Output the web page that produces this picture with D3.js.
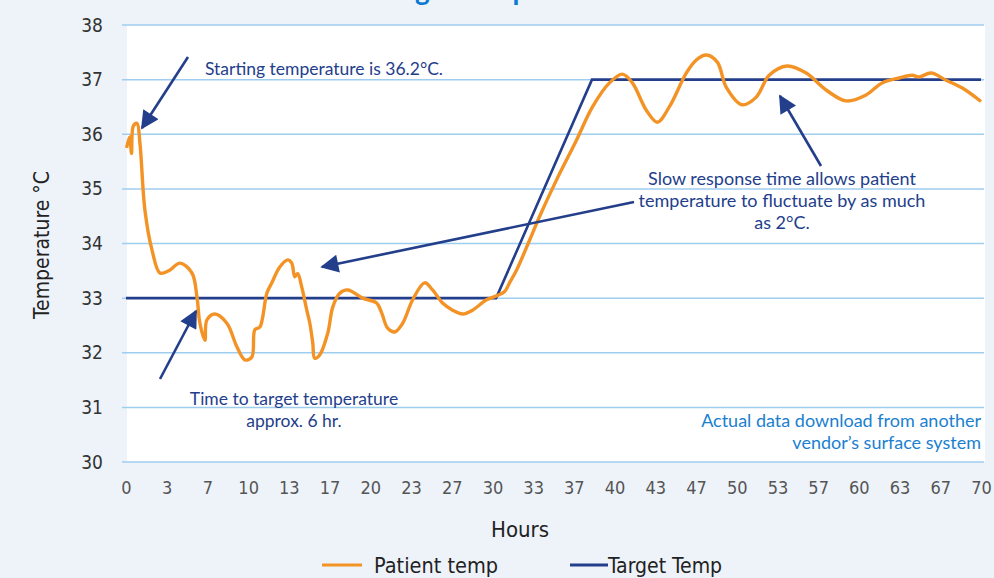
<!DOCTYPE html>
<html>
<head>
<meta charset="utf-8">
<script src="https://cdn.jsdelivr.net/npm/d3@7"></script>
<style>
  body { margin: 0; background: #eef3fa; }
  svg { display: block; }
  .tick line, .domain { display: none; }
</style>
</head>
<body>
<svg id="chart" width="994" height="578"></svg>
<script>
// Patient temperature, hours vs °C
const patientHours = [0.05, 0.3, 0.45, 0.6, 0.9, 1.14, 1.55, 2.13, 2.78, 3.5, 4.42, 5.4, 5.81, 6.05, 6.46, 6.62,
  7.28, 8.26, 9.08, 9.73, 10.3, 10.55, 10.96, 11.53, 11.94, 12.59, 13.25, 13.57, 13.82, 14.06, 14.39, 14.8,
  15.05, 15.29, 15.45, 15.86, 16.52, 16.93, 17.5, 18.15, 19.38, 20.52, 20.93, 21.42, 22.0, 22.65, 23.47,
  24.45, 25.1, 25.92, 26.74, 27.56, 28.37, 29.52, 30.42, 31.0, 31.4, 31.97, 33.04, 33.85, 35.24, 36.88,
  38.19, 39.58, 40.64, 41.46, 42.6, 43.5, 44.48, 45.87, 46.69, 47.51, 48.41, 49.15, 50.45, 51.6, 52.66,
  54.13, 55.69, 57.32, 58.96, 60.59, 61.9, 63.29, 64.36, 64.93, 65.91, 67.14, 68.44, 70];
const patientTemps = [35.75, 35.95, 35.65, 36.15, 36.2, 35.84, 34.61, 33.88, 33.46, 33.5, 33.64, 33.46, 33.02, 32.54, 32.23, 32.6,
  32.71, 32.54, 32.11, 31.87, 31.92, 32.42, 32.47, 33.09, 33.28, 33.57, 33.7, 33.64, 33.39, 33.45, 33.2, 32.78,
  32.54, 32.18, 31.9, 31.96, 32.36, 32.84, 33.09, 33.15, 33.0, 32.91, 32.73, 32.45, 32.38, 32.54, 32.97,
  33.28, 33.15, 32.91, 32.78, 32.71, 32.78, 32.97, 33.05, 33.12, 33.28, 33.51, 34.06, 34.49, 35.16, 35.89,
  36.5, 36.94, 37.1, 36.94, 36.44, 36.22, 36.5, 37.12, 37.36, 37.45, 37.32, 36.86, 36.54, 36.68, 37.08,
  37.25, 37.12, 36.81, 36.61, 36.72, 36.94, 37.03, 37.08, 37.05, 37.12, 36.99, 36.85, 36.6];

// Target temperature profile
const targetHours = [0, 30.3, 38.15, 70];
const targetTemps = [33, 33, 37, 37];

// Axis ticks
const xTickLabels = ['0', '3', '7', '10', '13', '17', '20', '23', '27', '30', '33', '37', '40', '43', '47', '50', '53', '57', '60', '63', '67', '70'];
const yTicks = [30, 31, 32, 33, 34, 35, 36, 37, 38];

const orange = '#f39325';
const navy = '#233e8b';
const grid = '#9fcdef';
const font = '"Liberation Sans Narrow", "DejaVu Sans Condensed", sans-serif';
const noteFont = 'Lato, "Open Sans", sans-serif';

const svg = d3.select('#chart');

const x = d3.scaleLinear().domain([0, 70]).range([126, 981]);
const y = d3.scaleLinear().domain([30, 38]).range([462, 25]);

// Title (cut off at the top edge, as in the original)
svg.append('text')
  .attr('x', 548)
  .attr('y', 0)
  .attr('text-anchor', 'middle')
  .style('font-family', 'Lato, sans-serif')
  .style('font-weight', 'bold')
  .style('font-size', '28px')
  .style('fill', '#0b7ad1')
  .text('Target Temperature Control');

// White plot area
svg.append('rect')
  .attr('x', 127).attr('y', y(38))
  .attr('width', 985 - 127).attr('height', y(30) - y(38))
  .attr('fill', '#fff');

// Grid
svg.append('g')
  .selectAll('line')
  .data(yTicks)
  .enter()
  .append('line')
  .attr('x1', 122).attr('x2', 984)
  .attr('y1', d => y(d)).attr('y2', d => y(d))
  .attr('stroke', grid)
  .attr('stroke-width', 1.5);

// Y axis
svg.append('g')
  .attr('transform', 'translate(122,0)')
  .call(d3.axisLeft(y).tickValues(yTicks).tickSize(0).tickPadding(19).tickFormat(d3.format('d')))
  .selectAll('text')
  .style('font-family', font)
  .style('font-size', '19px')
  .style('fill', '#333');

// X axis
const xTickValues = xTickLabels.map((d, i) => i * 70 / (xTickLabels.length - 1));
svg.append('g')
  .attr('transform', `translate(0,${y(30)})`)
  .call(d3.axisBottom(x).tickValues(xTickValues).tickSize(0).tickPadding(19)
    .tickFormat((d, i) => xTickLabels[i]))
  .selectAll('text')
  .style('font-family', font)
  .style('font-size', '18px')
  .style('fill', '#555');

// Axis titles
svg.append('text')
  .attr('x', 520).attr('y', 537)
  .attr('text-anchor', 'middle')
  .style('font-family', font)
  .style('font-size', '22px')
  .style('fill', '#222')
  .text('Hours');

svg.append('text')
  .attr('transform', 'translate(49,245) rotate(-90)')
  .attr('text-anchor', 'middle')
  .style('font-family', font)
  .style('font-size', '21px')
  .style('fill', '#222')
  .text('Temperature °C');

// Lines
const line = d3.line()
  .x(d => x(d[0]))
  .y(d => y(d[1]));

svg.append('path')
  .datum(targetHours.map((h, i) => [h, targetTemps[i]]))
  .attr('fill', 'none')
  .attr('stroke', navy)
  .attr('stroke-width', 2.6)
  .attr('d', line);

svg.append('path')
  .datum(patientHours.map((h, i) => [h, patientTemps[i]]))
  .attr('fill', 'none')
  .attr('stroke', orange)
  .attr('stroke-width', 3.4)
  .attr('stroke-linejoin', 'round')
  .attr('d', line.curve(d3.curveCatmullRom.alpha(0.5)));

// Arrow marker
svg.append('defs').append('marker')
  .attr('id', 'arrow')
  .attr('viewBox', '0 0 10 10')
  .attr('refX', 9).attr('refY', 5)
  .attr('markerWidth', 7.5).attr('markerHeight', 7)
  .attr('markerUnits', 'strokeWidth')
  .attr('orient', 'auto')
  .append('path')
  .attr('d', 'M0,0 L10,5 L0,10 Z')
  .attr('fill', navy);

const arrows = [
  [188, 57, 142, 128],
  [160, 379, 196, 311],
  [821, 166, 780, 96],
  [634, 202, 322, 267]
];
svg.append('g')
  .selectAll('line')
  .data(arrows)
  .enter()
  .append('line')
  .attr('x1', d => d[0]).attr('y1', d => d[1])
  .attr('x2', d => d[2]).attr('y2', d => d[3])
  .attr('stroke', navy)
  .attr('stroke-width', 2.6)
  .attr('marker-end', 'url(#arrow)');

// Notes
function note(lines, xPos, yPos, anchor, color, size) {
  const t = svg.append('text')
    .attr('text-anchor', anchor)
    .style('font-family', noteFont)
    .style('font-size', size + 'px')
    .style('fill', color);
  lines.forEach((s, i) => {
    t.append('tspan').attr('x', xPos).attr('y', yPos + i * 22).text(s);
  });
}

note(['Starting temperature is 36.2°C.'], 205, 75, 'start', navy, 17.5);
note(['Time to target temperature', 'approx. 6 hr.'], 294, 405, 'middle', navy, 17.5);
note(['Slow response time allows patient', 'temperature to fluctuate by as much', 'as 2°C.'], 782, 185, 'middle', navy, 18);
note(['Actual data download from another', 'vendor\u2019s surface system'], 981, 427, 'end', '#1a7fd0', 18);

// Legend
const legend = svg.append('g');
legend.append('line')
  .attr('x1', 322).attr('x2', 362).attr('y1', 565).attr('y2', 565)
  .attr('stroke', orange).attr('stroke-width', 3);
legend.append('text')
  .attr('x', 374).attr('y', 573)
  .style('font-family', font).style('font-size', '21.5px').style('fill', '#222')
  .text('Patient temp');
legend.append('line')
  .attr('x1', 570).attr('x2', 608).attr('y1', 565).attr('y2', 565)
  .attr('stroke', navy).attr('stroke-width', 3);
legend.append('text')
  .attr('x', 608).attr('y', 573)
  .style('font-family', font).style('font-size', '21px').style('fill', '#222')
  .text('Target Temp');
</script>
</body>
</html>
